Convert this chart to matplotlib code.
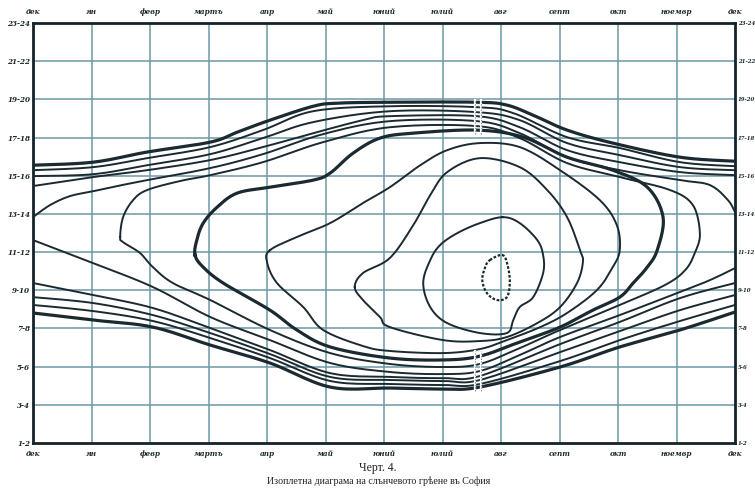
import numpy as np
import matplotlib
matplotlib.use("Agg")
import matplotlib.pyplot as plt

# ---------------- data (x = month position, 0 = Dec ... 12 = Dec; y = hour) -------------
months = ['дек', 'ян', 'февр', 'мартъ', 'апр', 'май', 'юний', 'юлий', 'авг', 'септ', 'окт', 'ноемвр', 'дек']
hour_ticks = [2, 4, 6, 8, 10, 12, 14, 16, 18, 20, 22, 24]
hour_labels = ['1-2', '3-4', '5-6', '7-8', '9-10', '11-12', '13-14', '15-16', '17-18', '19-20', '21-22', '23-24']

# upper family (open lines across the whole year)
t1_x = [0.00, 1.03, 1.95, 3.03, 3.49, 4.05, 4.79, 5.20, 6.10, 7.59, 8.10, 8.55, 9.13, 9.91, 11.06, 12.00]
t1_y = [16.55, 16.71, 17.24, 17.76, 18.28, 18.91, 19.64, 19.80, 19.85, 19.85, 19.70, 19.17, 18.39, 17.71, 16.97, 16.76]
t2_x = [0.00, 1.03, 1.95, 3.03, 3.93, 4.79, 6.10, 7.59, 8.21, 9.13, 10.03, 11.06, 12.00]
t2_y = [16.29, 16.45, 16.92, 17.50, 18.39, 19.38, 19.64, 19.59, 19.28, 18.02, 17.45, 16.71, 16.50]
t3_x = [0.00, 1.03, 1.95, 3.03, 3.93, 4.79, 6.10, 7.59, 8.32, 9.13, 10.03, 11.06, 12.00]
t3_y = [15.98, 16.08, 16.55, 17.13, 17.97, 18.81, 19.38, 19.33, 18.91, 17.71, 17.08, 16.45, 16.29]
t4_x = [0.00, 1.03, 1.95, 3.03, 3.93, 4.79, 5.64, 6.10, 7.59, 8.32, 9.13, 10.03, 11.06, 12.00]
t4_y = [15.46, 15.93, 16.29, 16.82, 17.50, 18.23, 18.91, 19.12, 19.12, 18.54, 17.34, 16.71, 16.19, 16.03]

# lower family
b1_x = [0.00, 1.03, 2.05, 3.03, 4.05, 5.08, 6.10, 7.01, 7.64, 9.01, 10.03, 11.06, 12.00]
b1_y = [8.81, 8.44, 8.07, 7.13, 6.19, 4.93, 4.88, 4.83, 4.93, 5.98, 7.03, 7.92, 8.86]
b2_x = [0.00, 1.03, 2.05, 3.03, 4.05, 5.08, 6.10, 7.01, 7.64, 9.01, 10.03, 11.06, 12.00]
b2_y = [9.23, 8.91, 8.39, 7.50, 6.45, 5.25, 5.09, 5.04, 5.09, 6.29, 7.39, 8.39, 9.23]
b3_x = [0.00, 1.03, 2.05, 3.03, 4.05, 5.08, 6.10, 7.01, 7.64, 9.01, 10.03, 11.06, 12.00]
b3_y = [9.64, 9.33, 8.70, 7.76, 6.66, 5.46, 5.30, 5.25, 5.30, 6.76, 7.86, 8.96, 9.75]
b4_x = [0.00, 1.03, 2.05, 3.03, 4.05, 5.08, 6.10, 7.01, 7.64, 9.01, 10.03, 11.06, 12.00]
b4_y = [10.38, 9.75, 9.07, 8.02, 6.87, 5.66, 5.46, 5.40, 5.51, 7.18, 8.34, 9.59, 10.38]

# isopleth open at the December edges
e_top_x = [0.00, 0.29, 0.63, 1.03, 1.44, 1.95, 3.03, 3.93, 4.96, 6.10, 7.59, 8.32, 9.13, 10.03, 11.06, 11.57, 11.88, 12.00]
e_top_y = [13.83, 14.46, 14.93, 15.19, 15.46, 15.77, 16.40, 17.13, 18.18, 18.86, 18.86, 18.23, 16.97, 16.29, 15.77, 15.51, 14.72, 14.09]
e_bot_x = [0.00, 1.03, 2.05, 3.03, 4.05, 5.08, 6.10, 7.01, 7.64, 8.32, 9.01, 10.03, 11.06, 11.57, 12.00]
e_bot_y = [12.63, 11.42, 10.17, 8.60, 7.39, 6.19, 5.72, 5.61, 5.77, 6.61, 7.55, 8.70, 9.91, 10.53, 11.16]

# closed isopleths
c1_x = [1.49, 1.54, 1.71, 1.95, 2.51, 3.03, 3.93, 4.96, 6.10, 7.59, 8.32, 9.13, 10.03, 10.89, 11.28, 11.40, 11.32,
        11.15, 10.80, 10.03, 9.01, 8.32, 7.64, 7.01, 6.10, 5.08, 4.05, 3.03, 2.39, 2.05, 1.83, 1.54]
c1_y = [12.79, 13.83, 14.72, 15.25, 15.72, 16.03, 16.71, 17.76, 18.54, 18.60, 17.97, 16.66, 15.93, 15.25, 14.46, 12.99, 12.00,
        11.06, 10.27, 9.23, 7.92, 6.97, 6.14, 5.98, 6.14, 6.71, 7.92, 9.49, 10.38, 11.21, 11.95, 12.52]
c2_x = [2.77, 2.80, 2.91, 3.15, 3.49, 4.05, 4.79, 5.08, 5.47, 5.93, 6.50, 7.59, 8.38, 9.13, 9.91, 10.50, 10.77, 10.67,
        10.50, 10.26, 10.03, 9.57, 9.01, 8.32, 7.64, 7.01, 6.10, 5.08, 4.51, 4.05, 3.25, 2.91]
c2_y = [11.84, 12.63, 13.52, 14.36, 15.09, 15.40, 15.77, 16.14, 17.18, 17.97, 18.23, 18.39, 18.02, 16.97, 16.29, 15.40, 13.83, 12.10,
        11.21, 10.38, 9.64, 8.96, 8.07, 7.29, 6.55, 6.35, 6.45, 7.03, 7.92, 8.96, 10.38, 11.21]
c3_x = [4.05, 4.51, 5.08, 5.64, 6.10, 6.62, 7.08, 7.64, 8.32, 9.01, 9.69, 9.98, 10.03, 9.91, 9.64, 9.13, 8.67, 8.10,
        7.64, 7.01, 6.10, 5.64, 4.96, 4.62, 4.17, 4.00]
c3_y = [12.10, 12.79, 13.52, 14.57, 15.40, 16.55, 17.34, 17.71, 17.50, 16.29, 14.72, 13.41, 12.10, 11.21, 10.01, 8.81, 8.07, 7.39,
        6.92, 6.71, 6.82, 7.08, 7.92, 9.12, 10.38, 11.48]
c4_x = [5.50, 5.64, 6.10, 6.50, 6.79, 7.08, 7.64, 8.32, 8.79, 9.13, 9.35, 9.40, 9.30, 9.01, 8.62, 8.10, 7.64, 7.01, 6.10, 5.93, 5.64]
c4_y = [10.17, 10.90, 11.69, 13.41, 14.98, 16.19, 16.92, 16.45, 15.25, 13.83, 12.10, 11.48, 10.38, 9.12, 8.28, 7.55, 7.34, 7.39, 8.07, 8.60, 9.49]
c5_x = [8.03, 8.32, 8.62, 8.72, 8.72, 8.55, 8.32, 8.21, 8.10, 7.64, 7.08, 6.79, 6.67, 6.79, 6.96, 7.25, 7.64]
c5_y = [13.83, 13.52, 12.63, 11.84, 10.90, 9.64, 9.12, 8.44, 7.76, 7.76, 8.28, 9.12, 10.38, 11.58, 12.37, 12.99, 13.52]
c6_x = [7.81, 8.03, 8.12, 8.15, 8.10, 7.93, 7.76, 7.68, 7.73]
c6_y = [11.58, 11.84, 11.21, 10.38, 9.64, 9.49, 9.85, 10.53, 11.21]

# break marks where the bundles of lines cross (month position, hour span)
break_x = [7.55, 7.66]
break_top = [18.2, 19.95]
break_bot = [4.75, 6.8]


def smooth(x, y, closed=False, n=14):
    pts = np.column_stack([x, y]).astype(float)
    if closed:
        P = np.vstack([pts[-1], pts, pts[0], pts[1]])
    else:
        P = np.vstack([pts[0], pts, pts[-1]])
    out = []
    t = np.linspace(0, 1, n, endpoint=False)[:, None]
    for i in range(1, len(P) - 2):
        p0, p1, p2, p3 = P[i - 1], P[i], P[i + 1], P[i + 2]
        seg = 0.5 * ((2 * p1) + (-p0 + p2) * t + (2 * p0 - 5 * p1 + 4 * p2 - p3) * t ** 2
                     + (-p0 + 3 * p1 - 3 * p2 + p3) * t ** 3)
        out.append(seg)
    out.append(P[-2][None, :])
    s = np.vstack(out)
    return s[:, 0], s[:, 1]


W, H = 755, 488
fig = plt.figure(figsize=(W / 100, H / 100), dpi=100)
fig.patch.set_facecolor('white')
ax = fig.add_axes([33 / W, 1 - 443 / H, (735 - 33) / W, (443 - 23) / H])
ax.set_xlim(0, 12)
ax.set_ylim(2, 24)

grid_col = '#6e98a6'
for xv in range(1, 12):
    ax.axvline(xv, color=grid_col, lw=1.1, zorder=1)
for yv in hour_ticks[1:-1]:
    ax.axhline(yv, color=grid_col, lw=1.1, zorder=1)

line_col = '#1b2a31'
thick = 2.3
thin = 1.4

open_lines = [(t1_x, t1_y, thick), (t2_x, t2_y, thin), (t3_x, t3_y, thin), (t4_x, t4_y, thin),
              (b1_x, b1_y, thick), (b2_x, b2_y, thin), (b3_x, b3_y, thin), (b4_x, b4_y, thin),
              (e_top_x, e_top_y, thin), (e_bot_x, e_bot_y, thin)]
for xs, ys, lw in open_lines:
    sx, sy = smooth(xs, ys)
    ax.plot(sx, sy, color=line_col, lw=lw, zorder=3, solid_capstyle='round')

closed_lines = [(c1_x, c1_y, thin, '-'), (c2_x, c2_y, thick, '-'), (c3_x, c3_y, thin, '-'),
                (c4_x, c4_y, thin, '-'), (c5_x, c5_y, thin, '-'), (c6_x, c6_y, 1.6, (0, (1.2, 0.8)))]
for xs, ys, lw, ls in closed_lines:
    sx, sy = smooth(xs, ys, closed=True)
    ax.plot(sx, sy, color=line_col, lw=lw, ls=ls, zorder=3)

# small break marks across the bundles
for bx in break_x:
    for span in (break_top, break_bot):
        ax.plot([bx, bx], span, color='white', lw=1.6, zorder=4)
        ax.plot([bx, bx], span, color='#8a9aa0', lw=0.7, ls=(0, (1.5, 1.2)), zorder=5)

for s in ax.spines.values():
    s.set_color('#14232a')
    s.set_linewidth(2.0)

tick_font = dict(family=['DejaVu Serif'], style='italic', weight='bold', size=5.2)
ax.set_xticks(range(13))
ax.set_xticklabels(months, fontdict=tick_font, color='#1e2b30')
ax.set_yticks(hour_ticks)
ax.set_yticklabels(hour_labels, fontdict=tick_font, color='#1e2b30')
ax.tick_params(axis='x', top=True, labeltop=True, length=0, pad=5)
ax.tick_params(axis='y', right=True, labelright=True, length=0, pad=3)
ax.tick_params(axis='y', which='major', pad=3)
for tk in ax.yaxis.get_major_ticks():
    tk.label2.set_fontsize(3.9)
    tk.set_pad(2)

fig.text(378 / W, 1 - 468 / H, 'Черт. 4.', ha='center', va='center',
         family=['Liberation Serif', 'DejaVu Serif'], size=8.5, color='#222222')
fig.text(379 / W, 1 - 481 / H, 'Изоплетна диаграма на слънчевото грѣене въ София', ha='center', va='center',
         family=['Liberation Serif', 'DejaVu Serif'], size=7.2, color='#222222')

fig.savefig('out.png', dpi=100, facecolor='white')
